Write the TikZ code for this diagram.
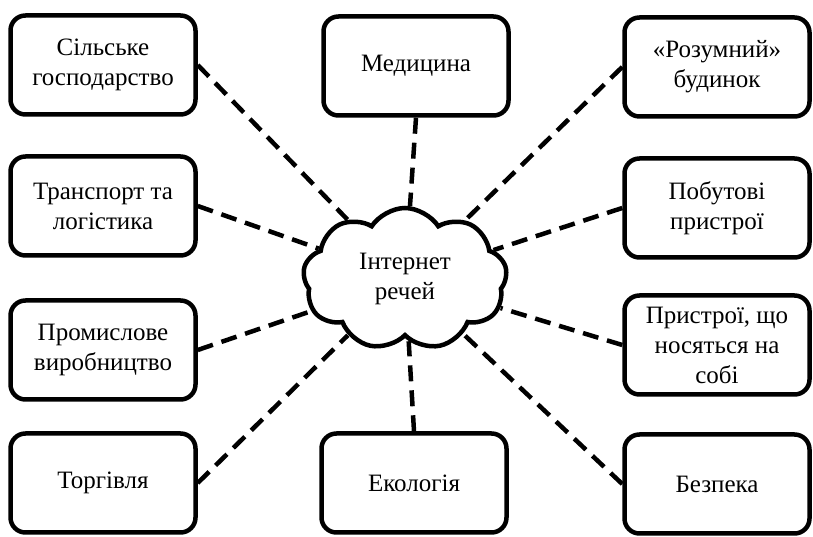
\documentclass[tikz,border=0pt]{standalone}
\usepackage{fontspec}
\setmainfont{Liberation Serif}
\usetikzlibrary{shapes.symbols}

\begin{document}
\begin{tikzpicture}[x=1pt,y=1pt,
  area/.style={draw,line width=4.5pt,rounded corners=15pt,minimum width=185pt,
    minimum height=99pt,align=center,font=\fontsize{25}{30}\selectfont},
  link/.style={line width=4.5pt,dash pattern=on 16pt off 9pt}]
\useasboundingbox (0,0) rectangle (813,537);
% left column
\node[area] (agro) at (103,472) {Сільське\\господарство};
\node[area] (trans) at (103,331) {Транспорт та\\логістика};
\node[area] (ind) at (103,187) {Промислове\\виробництво};
\node[area] (trade) at (103,54) {Торгівля};
% middle column
\node[area] (med) at (416,471) {Медицина};
\node[area] (eco) at (414,54) {Екологія};
% right column
\node[area] (home) at (717,470) {«Розумний»\\будинок};
\node[area] (appl) at (717,329) {Побутові\\пристрої};
\node[area] (wear) at (717,192) {Пристрої, що\\носяться на\\собі};
\node[area] (sec) at (717,53) {Безпека};
% centre
\node[cloud,draw,line width=4.5pt,cloud puffs=9,cloud puff arc=115,aspect=1.45,
  minimum width=204pt,minimum height=142pt,align=center,
  font=\fontsize{25}{30}\selectfont] (iot) at (405,258) {Інтернет\\речей};
% links
\draw[link] (agro.east) -- (iot);
\draw[link] (trans.east) -- (iot);
\draw[link] (ind.east) -- (iot);
\draw[link] (trade.east) -- (iot);
\draw[link] (med.south) -- (iot);
\draw[link] (eco.north) -- (iot);
\draw[link] (home.west) -- (iot);
\draw[link] (appl.west) -- (iot);
\draw[link] (wear.west) -- (iot);
\draw[link] (sec.west) -- (iot);
\end{tikzpicture}
\end{document}
